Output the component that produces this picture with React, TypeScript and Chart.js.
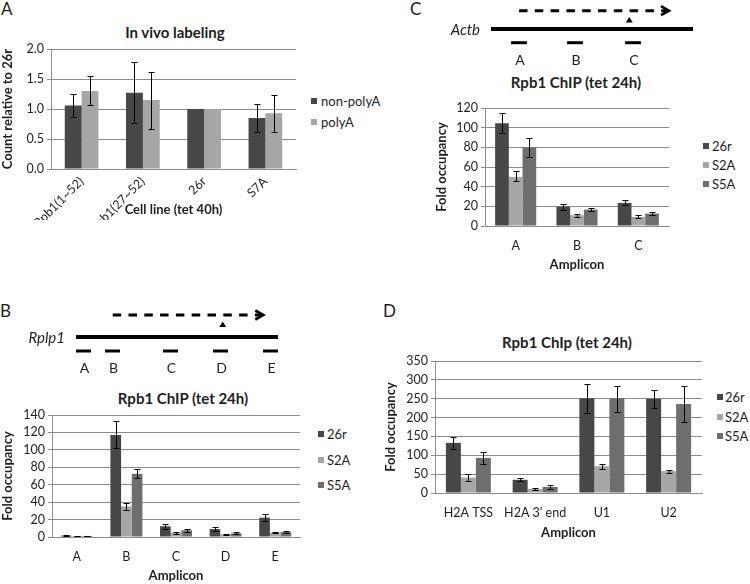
import React, { useEffect, useRef } from "react";
import { Chart, registerables } from "chart.js";

Chart.register(...registerables);

// ---------- DATA ----------
// Panel A: In vivo labeling
const cellLines = ["Rpb1(1~52)", "Rpb1(27~52)", "26r", "S7A"];
const nonPolyA = [1.06, 1.27, 1.0, 0.85];
const nonPolyALow = [0.87, 0.76, null, 0.61];
const nonPolyAHigh = [1.25, 1.78, null, 1.09];
const polyA = [1.3, 1.15, 1.0, 0.93];
const polyALow = [1.06, 0.67, null, 0.62];
const polyAHigh = [1.55, 1.62, null, 1.24];

// Panel C: Actb Rpb1 ChIP
const actbAmplicons = ["A", "B", "C"];
const actb26r = [104.5, 19.5, 23.5];
const actb26rLow = [94.5, 16.5, 21];
const actb26rHigh = [114.5, 22.5, 26];
const actbS2A = [50, 11, 9.2];
const actbS2ALow = [46, 9.3, 7.8];
const actbS2AHigh = [55.5, 12.6, 10.9];
const actbS5A = [80, 16.7, 12.6];
const actbS5ALow = [70, 15, 10.8];
const actbS5AHigh = [89, 18.5, 14.5];

// Panel B: Rplp1 Rpb1 ChIP
const rplp1Amplicons = ["A", "B", "C", "D", "E"];
const rplp1_26r = [1.5, 117, 12.3, 9.2, 22.2];
const rplp1_26rLow = [1.0, 102, 9.5, 7.2, 18.2];
const rplp1_26rHigh = [2.0, 133, 15, 11, 26.5];
const rplp1S2A = [1.2, 35, 5, 3, 5];
const rplp1S2ALow = [0.9, 31, 4, 2.5, 4.3];
const rplp1S2AHigh = [1.5, 39.5, 6.3, 3.5, 5.7];
const rplp1S5A = [1.2, 72.5, 7.7, 4.3, 5.8];
const rplp1S5ALow = [0.9, 68, 5.9, 3.4, 5];
const rplp1S5AHigh = [1.5, 77.5, 9.7, 5.2, 6.6];

// Panel D: H2A / U1 / U2 Rpb1 ChIp
const otherAmplicons = ["H2A TSS", "H2A 3' end", "U1", "U2"];
const other26r = [133, 35, 251, 250];
const other26rLow = [116, 32, 212, 226];
const other26rHigh = [149, 39, 290, 274];
const otherS2A = [41, 10.5, 71, 58];
const otherS2ALow = [33, 9, 64, 54];
const otherS2AHigh = [50, 12, 78, 62];
const otherS5A = [93, 16, 251, 236];
const otherS5ALow = [76, 11, 214, 187];
const otherS5AHigh = [110, 21, 285, 285];

// ---------- STYLE ----------
const FONT = "Lato, 'Open Sans', sans-serif";
const C_DARK = "#474747";
const C_LIGHT = "#a6a6a6";
const C_MID = "#6e6e6e";
const GRID = "#8c8c8c";
const TEXT = "#1e1e1e";

const errorBarPlugin = {
  id: "errorBars",
  afterDatasetsDraw(chart: any) {
    const ctx = chart.ctx;
    const yScale = chart.scales.y;
    chart.data.datasets.forEach((ds: any, i: number) => {
      const meta = chart.getDatasetMeta(i);
      if (!ds.errLow || !ds.errHigh) return;
      meta.data.forEach((bar: any, j: number) => {
        const lo = ds.errLow[j];
        const hi = ds.errHigh[j];
        if (lo == null || hi == null) return;
        const x = Math.round(bar.x) + 0.5;
        const yLo = Math.round(yScale.getPixelForValue(lo)) + 0.5;
        const yHi = Math.round(yScale.getPixelForValue(hi)) + 0.5;
        ctx.save();
        ctx.strokeStyle = "#000";
        ctx.lineWidth = 1;
        ctx.beginPath();
        ctx.moveTo(x, yLo);
        ctx.lineTo(x, yHi);
        ctx.moveTo(x - 3, yLo);
        ctx.lineTo(x + 3, yLo);
        ctx.moveTo(x - 3, yHi);
        ctx.lineTo(x + 3, yHi);
        ctx.stroke();
        ctx.restore();
      });
    });
  },
};

type Series = { label: string; values: number[]; low: (number | null)[]; high: (number | null)[]; color: string };

type ChartProps = {
  left: number;
  top: number;
  width: number;
  height: number;
  padding: { left: number; top: number; right: number; bottom: number };
  yWidth: number;
  xHeight: number;
  labels: string[];
  series: Series[];
  yMax: number;
  yStep: number;
  decimals: number;
  yTitle: string;
  xTitle: string;
  catPct: number;
  rotate?: boolean;
  xTitlePad: number;
  xTickPad: number;
};

function BarChart(p: ChartProps) {
  const ref = useRef<HTMLCanvasElement>(null);
  useEffect(() => {
    const chart = new Chart(ref.current as HTMLCanvasElement, {
      type: "bar",
      data: {
        labels: p.labels,
        datasets: p.series.map((s) => ({
          label: s.label,
          data: s.values,
          backgroundColor: s.color,
          borderWidth: 0,
          barPercentage: 1,
          categoryPercentage: p.catPct,
          errLow: s.low,
          errHigh: s.high,
        })) as any,
      },
      options: {
        animation: false,
        responsive: false,
        maintainAspectRatio: false,
        layout: { padding: p.padding },
        plugins: {
          legend: { display: false },
          title: { display: false },
          tooltip: { enabled: false },
        },
        scales: {
          x: {
            grid: { display: false, drawTicks: false },
            border: { display: true, color: GRID, width: 1 },
            ticks: {
              color: TEXT,
              font: { family: FONT, size: 12.5 },
              padding: p.xTickPad,
              autoSkip: false,
              minRotation: p.rotate ? 45 : 0,
              maxRotation: p.rotate ? 45 : 0,
            },
            title: {
              display: true,
              text: p.xTitle,
              color: TEXT,
              font: { family: FONT, size: 13, weight: "bold" },
              padding: { top: 0, bottom: p.xTitlePad },
            },
            afterFit: (s: any) => {
              s.height = p.xHeight;
            },
          },
          y: {
            min: 0,
            max: p.yMax,
            grid: { color: GRID, lineWidth: 1, drawTicks: true, tickLength: 4 },
            border: { display: true, color: GRID, width: 1 },
            ticks: {
              stepSize: p.yStep,
              autoSkip: false,
              color: TEXT,
              padding: 3,
              font: { family: FONT, size: 12.5 },
              callback: (v: any) => Number(v).toFixed(p.decimals),
            },
            title: {
              display: true,
              text: p.yTitle,
              color: TEXT,
              font: { family: FONT, size: 13, weight: "bold" },
              padding: { top: 0, bottom: 0 },
            },
            afterFit: (s: any) => {
              s.width = p.yWidth;
            },
          },
        },
      } as any,
      plugins: [errorBarPlugin],
    });
    return () => chart.destroy();
  }, []);
  return (
    <canvas
      ref={ref}
      width={p.width}
      height={p.height}
      style={{ position: "absolute", left: p.left, top: p.top, width: p.width, height: p.height }}
    />
  );
}

function Title({ text, cx, cy, size = 15 }: { text: string; cx: number; cy: number; size?: number }) {
  return (
    <div
      style={{
        position: "absolute",
        left: cx - 150,
        top: cy - 10,
        width: 300,
        height: 20,
        lineHeight: "20px",
        textAlign: "center",
        fontWeight: "bold",
        fontSize: size,
        color: TEXT,
        whiteSpace: "nowrap",
      }}
    >
      {text}
    </div>
  );
}

function Legend({ items, x, textX, ys }: { items: { label: string; color: string }[]; x: number; textX: number; ys: number[] }) {
  return (
    <>
      {items.map((it, i) => (
        <React.Fragment key={i}>
          <div style={{ position: "absolute", left: x, top: ys[i] - 3, width: 6, height: 6, background: it.color }} />
          <div
            style={{
              position: "absolute",
              left: textX,
              top: ys[i] - 9,
              height: 18,
              lineHeight: "18px",
              fontSize: 13,
              color: TEXT,
              whiteSpace: "nowrap",
            }}
          >
            {it.label}
          </div>
        </React.Fragment>
      ))}
    </>
  );
}

function PanelLetter({ text, x, y }: { text: string; x: number; y: number }) {
  return (
    <div style={{ position: "absolute", left: x, top: y, fontSize: 17, lineHeight: "17px", color: TEXT }}>{text}</div>
  );
}

function GeneDiagram(props: {
  name: string;
  nameRight: number;
  lineY: number;
  lineX1: number;
  lineX2: number;
  arrowY: number;
  arrowX1: number;
  arrowX2: number;
  triX: number;
  triTop: number;
  ampY: number;
  amps: [number, number][];
  ampLabels: string[];
  labelY: number;
}) {
  const d = props;
  return (
    <g>
      <line x1={d.arrowX1} y1={d.arrowY} x2={d.arrowX2 - 2} y2={d.arrowY} stroke="#000" strokeWidth={3} strokeDasharray="8.5 7.3" />
      <polyline
        points={`${d.arrowX2 - 8},${d.arrowY - 4.5} ${d.arrowX2},${d.arrowY} ${d.arrowX2 - 8},${d.arrowY + 4.5}`}
        fill="none"
        stroke="#000"
        strokeWidth={2.6}
      />
      <polygon points={`${d.triX},${d.triTop} ${d.triX + 3.5},${d.triTop + 5.5} ${d.triX - 3.5},${d.triTop + 5.5}`} fill="#000" />
      <line x1={d.lineX1} y1={d.lineY} x2={d.lineX2} y2={d.lineY} stroke="#000" strokeWidth={4} />
      <text x={d.nameRight} y={d.lineY} textAnchor="end" dominantBaseline="central" fontStyle="italic" fontSize={15} fill={TEXT} fontFamily={FONT}>
        {d.name}
      </text>
      {d.amps.map((a, i) => (
        <React.Fragment key={i}>
          <line x1={a[0]} y1={d.ampY} x2={a[1]} y2={d.ampY} stroke="#000" strokeWidth={3} />
          <text x={(a[0] + a[1]) / 2 + 1} y={d.labelY} textAnchor="middle" dominantBaseline="central" fontSize={14} fill={TEXT} fontFamily={FONT}>
            {d.ampLabels[i]}
          </text>
        </React.Fragment>
      ))}
    </g>
  );
}

export default function App() {
  const chipItems = [
    { label: "26r", color: C_DARK },
    { label: "S2A", color: C_LIGHT },
    { label: "S5A", color: C_MID },
  ];
  return (
    <div
      style={{
        position: "absolute",
        left: 0,
        top: 0,
        width: 750,
        height: 584,
        background: "#fff",
        overflow: "hidden",
        fontFamily: FONT,
      }}
    >
      {/* Panel A */}
      <PanelLetter text="A" x={1} y={0} />
      <Title text="In vivo labeling" cx={175} cy={32} />
      <BarChart
        left={0}
        top={0}
        width={300}
        height={220}
        padding={{ left: 0, top: 49, right: 4, bottom: 0 }}
        yWidth={51}
        xHeight={51}
        labels={cellLines}
        series={[
          { label: "non-polyA", values: nonPolyA, low: nonPolyALow, high: nonPolyAHigh, color: C_DARK },
          { label: "polyA", values: polyA, low: polyALow, high: polyAHigh, color: C_LIGHT },
        ]}
        yMax={2}
        yStep={0.5}
        decimals={1}
        yTitle="Count relative to 26r"
        xTitle="Cell line (tet 40h)"
        catPct={0.55}
        rotate
        xTitlePad={2}
        xTickPad={5}
      />
      <Legend
        items={[
          { label: "non-polyA", color: C_DARK },
          { label: "polyA", color: C_LIGHT },
        ]}
        x={311}
        textX={321}
        ys={[101, 122]}
      />

      {/* Panel C */}
      <PanelLetter text="C" x={410} y={0} />
      <Title text="Rpb1 ChIP (tet 24h)" cx={576} cy={82} />
      <BarChart
        left={370}
        top={90}
        width={310}
        height={185}
        padding={{ left: 64, top: 18, right: 11, bottom: 0 }}
        yWidth={51}
        xHeight={49}
        labels={actbAmplicons}
        series={[
          { label: "26r", values: actb26r, low: actb26rLow, high: actb26rHigh, color: C_DARK },
          { label: "S2A", values: actbS2A, low: actbS2ALow, high: actbS2AHigh, color: C_LIGHT },
          { label: "S5A", values: actbS5A, low: actbS5ALow, high: actbS5AHigh, color: C_MID },
        ]}
        yMax={120}
        yStep={20}
        decimals={0}
        yTitle="Fold occupancy"
        xTitle="Amplicon"
        catPct={0.67}
        xTitlePad={2}
        xTickPad={12}
      />
      <Legend items={chipItems} x={703} textX={712} ys={[146, 165, 184]} />

      {/* Panel B */}
      <PanelLetter text="B" x={0} y={302} />
      <Title text="Rpb1 ChIP (tet 24h)" cx={183} cy={398} />
      <BarChart
        left={0}
        top={380}
        width={310}
        height={204}
        padding={{ left: 0, top: 35, right: 10, bottom: 0 }}
        yWidth={52}
        xHeight={47}
        labels={rplp1Amplicons}
        series={[
          { label: "26r", values: rplp1_26r, low: rplp1_26rLow, high: rplp1_26rHigh, color: C_DARK },
          { label: "S2A", values: rplp1S2A, low: rplp1S2ALow, high: rplp1S2AHigh, color: C_LIGHT },
          { label: "S5A", values: rplp1S5A, low: rplp1S5ALow, high: rplp1S5AHigh, color: C_MID },
        ]}
        yMax={140}
        yStep={20}
        decimals={0}
        yTitle="Fold occupancy"
        xTitle="Amplicon"
        catPct={0.645}
        xTitlePad={0}
        xTickPad={12}
      />
      <Legend items={chipItems} x={318} textX={327} ys={[434, 459.5, 485]} />

      {/* Panel D */}
      <PanelLetter text="D" x={383} y={302} />
      <Title text="Rpb1 ChIp (tet 24h)" cx={567} cy={342} />
      <BarChart
        left={370}
        top={340}
        width={340}
        height={203}
        padding={{ left: 13, top: 21, right: 8, bottom: 0 }}
        yWidth={52}
        xHeight={50}
        labels={otherAmplicons}
        series={[
          { label: "26r", values: other26r, low: other26rLow, high: other26rHigh, color: C_DARK },
          { label: "S2A", values: otherS2A, low: otherS2ALow, high: otherS2AHigh, color: C_LIGHT },
          { label: "S5A", values: otherS5A, low: otherS5ALow, high: otherS5AHigh, color: C_MID },
        ]}
        yMax={350}
        yStep={50}
        decimals={0}
        yTitle="Fold occupancy"
        xTitle="Amplicon"
        catPct={0.674}
        xTitlePad={2}
        xTickPad={12}
      />
      <Legend items={chipItems} x={717} textX={725} ys={[397, 416.5, 436]} />

      {/* Gene diagrams */}
      <svg width={750} height={584} style={{ position: "absolute", left: 0, top: 0, pointerEvents: "none" }}>
        <GeneDiagram
          name="Actb"
          nameRight={480}
          lineY={29}
          lineX1={491}
          lineX2={693}
          arrowY={10.7}
          arrowX1={519}
          arrowX2={669}
          triX={629.3}
          triTop={17}
          ampY={42.7}
          amps={[
            [511, 527],
            [567, 583],
            [625, 641],
          ]}
          ampLabels={["A", "B", "C"]}
          labelY={59}
        />
        <GeneDiagram
          name="Rplp1"
          nameRight={65}
          lineY={337}
          lineX1={76}
          lineX2={278}
          arrowY={315}
          arrowX1={112.7}
          arrowX2={263.3}
          triX={222.7}
          triTop={321.5}
          ampY={351}
          amps={[
            [76, 91],
            [105, 120],
            [163, 178],
            [213, 228],
            [263, 278],
          ]}
          ampLabels={["A", "B", "C", "D", "E"]}
          labelY={367}
        />
      </svg>
    </div>
  );
}
